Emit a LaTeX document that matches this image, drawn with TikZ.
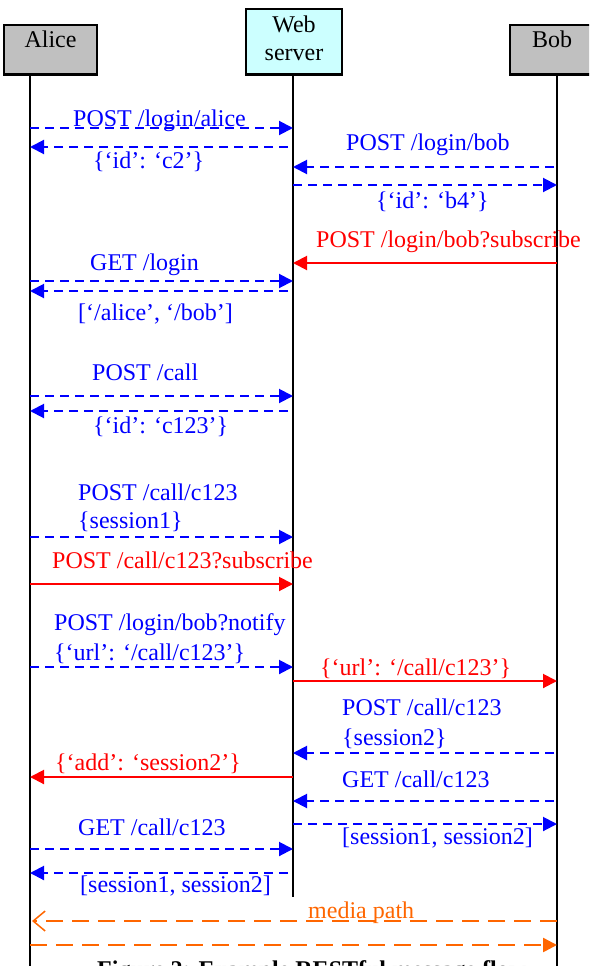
\documentclass[tikz,border=0pt]{standalone}
\usepackage{fontspec}
\setmainfont{Liberation Serif}
\usetikzlibrary{arrows.meta}

\definecolor{actorgray}{RGB}{192,192,192}
\definecolor{servercyan}{RGB}{204,255,255}
\definecolor{mediaorange}{RGB}{255,102,0}

\tikzset{
    actor/.style={draw, line width=2.5pt, minimum height=49pt, inner sep=0pt},
    lifeline/.style={line width=2pt},
    req/.style={blue, line width=2pt, dash pattern=on 9pt off 6pt,
        -{Triangle[length=14pt,width=14pt]}},
    sub/.style={red, line width=2pt, -{Triangle[length=14pt,width=14pt]}},
    media/.style={mediaorange, line width=2.5pt, dash pattern=on 17pt off 9pt},
    msg/.style={blue, anchor=base west, inner sep=0pt},
    evt/.style={red, anchor=base west, inner sep=0pt},
}

\begin{document}
\begin{tikzpicture}[x=1pt, y=-1pt,
    every node/.style={font=\fontsize{24}{28}\selectfont}]

    \useasboundingbox (0,0) rectangle (589,966);
    \clip (0,0) rectangle (589,966);

    % Actors
    \node[actor, fill=actorgray, minimum width=93pt, anchor=north] (alice) at (50.5,24){};
    \node[anchor=base] (alice_txt) at (50.5,48) {Alice};

    \node[actor, fill=servercyan, minimum width=96pt, minimum height=65pt,
        anchor=north] (web) at (294,8){};
    \node[anchor=base, align=center] (web_txt) at (294,60) {Web\\server};

    \node[actor, fill=actorgray, minimum width=94pt, anchor=north] (bob) at (557,24){};
    \node[anchor=base] (bob_txt) at (552,48) {Bob};

    % Lifelines
    \coordinate (alice_end) at (30,966);
    \coordinate (web_end) at (293,897);
    \coordinate (bob_end) at (557,966);
    \draw[lifeline] (alice.south -| alice_end) -- (alice_end);
    \draw[lifeline] (web.south -| web_end) -- (web_end);
    \draw[lifeline] (bob.south -| bob_end) -- (bob_end);

    % Points on the lifelines for every message
    \foreach \lvl/\y in {l1/128, l2/147, l3/167, l4/185, l5/263, l6/281,
        l7/291, l8/396, l9/411, l10/537, l11/584, l12/667, l13/681,
        l14/753, l15/777, l16/801, l17/824, l18/849, l19/873, l20/921,
        l21/945}{
        \coordinate (a-\lvl) at (30,\y);
        \coordinate (w-\lvl) at (293,\y);
        \coordinate (b-\lvl) at (557,\y);
    }

    % Login
    \draw[req] (a-l1) -- (w-l1);
    \node[msg] (login_alice) at (73,126) {POST /login/alice};
    \draw[req, shorten <=5pt] (w-l2) -- (a-l2);
    \node[msg] (id_c2) at (93,168) {\{‘id’: ‘c2’\}};

    \draw[req, shorten <=3pt] (b-l3) -- (w-l3);
    \node[msg] (login_bob) at (346,150) {POST /login/bob};
    \draw[req] (w-l4) -- (b-l4);
    \node[msg] (id_b4) at (376,208) {\{‘id’: ‘b4’\}};

    \draw[sub] (b-l5) -- (w-l5);
    \node[evt] (bob_subscribe) at (316,247) {POST /login/bob?subscribe};

    \draw[req] (a-l6) -- (w-l6);
    \node[msg] (get_login) at (90,270) {GET /login};
    \draw[req, shorten <=5pt] (w-l7) -- (a-l7);
    \node[msg] (user_list) at (78,320) {[‘/alice’, ‘/bob’]};

    % Call setup
    \draw[req] (a-l8) -- (w-l8);
    \node[msg] (post_call) at (92,380) {POST /call};
    \draw[req, shorten <=5pt] (w-l9) -- (a-l9);
    \node[msg] (id_c123) at (93,433) {\{‘id’: ‘c123’\}};

    \draw[req] (a-l10) -- (w-l10);
    \node[msg] (call_c123) at (78,500) {POST /call/c123};
    \node[msg] (session1) at (78,528) {\{session1\}};

    \draw[sub] (a-l11) -- (w-l11);
    \node[evt] (call_subscribe) at (52,568) {POST /call/c123?subscribe};

    % Notify Bob
    \draw[req] (a-l12) -- (w-l12);
    \node[msg] (bob_notify) at (54,630) {POST /login/bob?notify};
    \node[msg] (notify_url) at (54,660) {\{‘url’: ‘/call/c123’\}};

    \draw[sub] (w-l13) -- (b-l13);
    \node[evt] (event_url) at (320,675) {\{‘url’: ‘/call/c123’\}};

    \draw[req, shorten <=3pt] (b-l14) -- (w-l14);
    \node[msg] (bob_call) at (342,715) {POST /call/c123};
    \node[msg] (session2) at (342,745) {\{session2\}};

    \draw[sub] (w-l15) -- (a-l15);
    \node[evt] (event_add) at (55,770) {\{‘add’: ‘session2’\}};

    % Session lists
    \draw[req, shorten <=3pt] (b-l16) -- (w-l16);
    \node[msg] (bob_get) at (342,787) {GET /call/c123};
    \draw[req] (w-l17) -- (b-l17);
    \node[msg] (bob_sessions) at (342,844) {[session1, session2]};

    \draw[req] (a-l18) -- (w-l18);
    \node[msg] (alice_get) at (78,835) {GET /call/c123};
    \draw[req, shorten <=5pt] (w-l19) -- (a-l19);
    \node[msg] (alice_sessions) at (80,892) {[session1, session2]};

    % Media
    \draw[media, -{Straight Barb[length=12pt,width=20pt,line width=1.5pt]}]
        (b-l20) -- ([xshift=2pt]a-l20);
    \node[anchor=base west, inner sep=0pt, text=mediaorange] (media_lbl)
        at (308,918) {media path};
    \draw[media, -{Triangle[length=14pt,width=14pt]}] (a-l21) -- (b-l21);

    % Caption (cut off by the page edge)
    \node[anchor=base west, inner sep=0pt, font=\fontsize{24}{29}\selectfont\bfseries]
        (caption) at (97,977) {Figure 2: Example RESTful message flow};

\end{tikzpicture}
\end{document}
